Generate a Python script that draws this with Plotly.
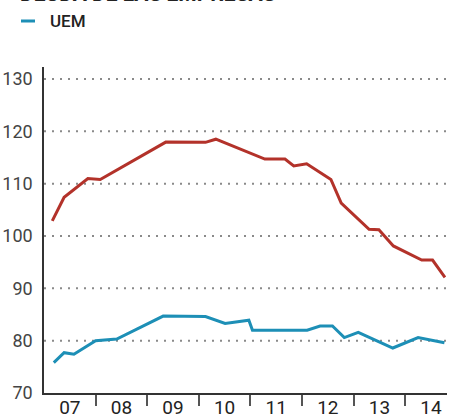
import plotly.graph_objects as go

# Data (decimal years)
red_x = [2007.16, 2007.39, 2007.85, 2008.09, 2009.36, 2010.13, 2010.33, 2010.51,
         2011.28, 2011.67, 2011.84, 2012.09, 2012.56, 2012.76, 2013.30, 2013.49,
         2013.77, 2014.32, 2014.53, 2014.77]
red_y = [102.9, 107.4, 111.0, 110.8, 117.95, 117.9, 118.5, 117.8,
         114.7, 114.7, 113.4, 113.8, 110.8, 106.3, 101.3, 101.2,
         98.1, 95.4, 95.4, 92.1]

uem_x = [2007.19, 2007.39, 2007.58, 2008.00, 2008.41, 2009.31, 2010.13, 2010.51,
         2010.97, 2011.04, 2012.10, 2012.35, 2012.59, 2012.82, 2013.09, 2013.76,
         2014.25, 2014.76]
uem_y = [75.8, 77.7, 77.4, 80.0, 80.3, 84.7, 84.6, 83.3,
         83.9, 82.0, 82.0, 82.8, 82.8, 80.6, 81.6, 78.6,
         80.6, 79.6]

year_ticks = [2007.5, 2008.5, 2009.5, 2010.5, 2011.5, 2012.5, 2013.5, 2014.5]
year_labels = ["07", "08", "09", "10", "11", "12", "13", "14"]
year_bounds = [2008, 2009, 2010, 2011, 2012, 2013, 2014]
y_ticks = [70, 80, 90, 100, 110, 120, 130]

title_text = "DEUDA DE LAS EMPRESAS"
legend_label = "UEM"

RED = "#b3322a"
BLUE = "#1d8fb6"
FONT = "Roboto, Arial"

fig = go.Figure()
fig.add_trace(go.Scatter(x=red_x, y=red_y, mode="lines",
                         line=dict(color=RED, width=3), showlegend=False))
fig.add_trace(go.Scatter(x=uem_x, y=uem_y, mode="lines",
                         line=dict(color=BLUE, width=3), showlegend=False))

# grid lines as shapes (dotted), excluding 70
for v in y_ticks[1:]:
    fig.add_shape(type="line", xref="paper", yref="y", x0=0, x1=1, y0=v, y1=v,
                  line=dict(color="#8a8a8a", width=2, dash="2px,6px"), layer="below")

fig.update_layout(
    width=451, height=415, autosize=False,
    margin=dict(l=44, r=4, t=67, b=22),
    paper_bgcolor="white", plot_bgcolor="white",
    font=dict(family=FONT, color="#444"),
    xaxis=dict(range=[2007, 2014.81], tickvals=year_ticks, ticktext=year_labels,
               ticks="", showgrid=False, zeroline=False, automargin=False,
               showline=True, linecolor="#333", linewidth=1.5,
               tickfont=dict(size=19, color="#222", family=FONT),
               ticklabelstandoff=-4,
               minor=dict(tickvals=year_bounds, ticks="outside", ticklen=11,
                          tickcolor="#555", tickwidth=1.5, showgrid=False)),
    yaxis=dict(range=[70, 132.3], tickvals=y_ticks, ticks="", showgrid=False,
               zeroline=False, showline=True, linecolor="#333", linewidth=1.5,
               automargin=False,
               tickfont=dict(size=18, color="#444", family=FONT), ticklabelstandoff=6),
    showlegend=False,
)

fig.add_annotation(text="<b>" + title_text + "</b>", xref="paper", yref="paper",
                   x=-44/403, y=1 + (67 - 8) / 326, xanchor="left", yanchor="bottom",
                   xshift=18, showarrow=False,
                   font=dict(size=21, color="#222", family=FONT))
fig.add_shape(type="line", xref="paper", yref="paper",
              x0=(21 - 44) / 403, x1=(35 - 44) / 403,
              y0=1 + (67 - 21) / 326, y1=1 + (67 - 21) / 326,
              line=dict(color=BLUE, width=3))
fig.add_annotation(text=legend_label, xref="paper", yref="paper",
                   x=(48 - 44) / 403, y=1 + (67 - 21) / 326, xanchor="left", yanchor="middle",
                   showarrow=False, font=dict(size=17, color="#222", family=FONT, weight=500))

fig.write_html("out.html",
               config={"responsive": False, "displayModeBar": False},
               post_script="document.body.style.margin='0';document.body.style.overflow='hidden';")
